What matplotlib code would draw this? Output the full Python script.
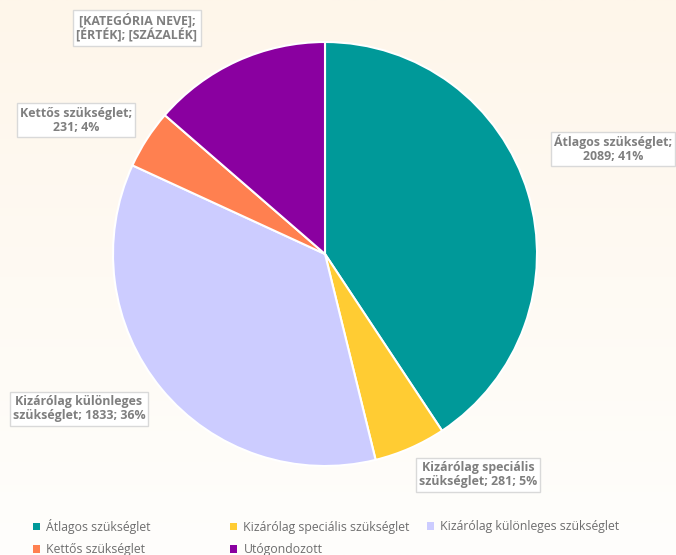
import numpy as np
import matplotlib.pyplot as plt
from matplotlib.colors import LinearSegmentedColormap

CATEGORIES = [
    "Átlagos szükséglet",
    "Kizárólag speciális szükséglet",
    "Kizárólag különleges szükséglet",
    "Kettős szükséglet",
    "Utógondozott",
]
VALUES = [2089, 281, 1833, 231, 700]
COLORS = ["#009999", "#FFCC33", "#CCCCFF", "#FF8050", "#8A00A0"]

LABELS = [
    "Átlagos szükséglet;\n2089; 41%",
    "Kizárólag speciális\nszükséglet; 281; 5%",
    "Kizárólag különleges\nszükséglet; 1833; 36%",
    "Kettős szükséglet;\n231; 4%",
    "[KATEGÓRIA NEVE];\n[ÉRTÉK]; [SZÁZALÉK]",
]
# label box centres in pixel coords (x, y from top)
LABEL_POS = [(613, 149), (478, 475), (79, 409), (76, 120), (137, 28)]

# legend is laid out row-wise in 3 equal columns, like Excel
LEGEND_COLS = [[0, 3], [1, 4], [2]]
LEGEND_X = [33, 230, 427]
LEGEND_BOTTOM = [556, 556, 533]

W, H = 676, 555
fig = plt.figure(figsize=(W / 100, H / 100), dpi=100)

# background gradient: cream at top, almost white at bottom
bg = fig.add_axes([0, 0, 1, 1], zorder=0)
grad = np.linspace(0, 1, 256).reshape(-1, 1)
cmap = LinearSegmentedColormap.from_list("bg", ["#FEF6EA", "#FFFEFC"])
bg.imshow(grad, aspect="auto", cmap=cmap, extent=[0, 1, 0, 1])
bg.axis("off")

ax = fig.add_axes([0, 0, 1, 1], zorder=1)
ax.patch.set_alpha(0)

wedges, _ = ax.pie(
    VALUES,
    colors=COLORS,
    startangle=90,
    counterclock=False,
    center=(325, H - 254),
    radius=212,
    frame=True,
    wedgeprops=dict(edgecolor="white", linewidth=1.5),
)
ax.set_xlim(0, W)
ax.set_ylim(0, H)
ax.axis("off")

font = "Open Sans"
for text, (px, py) in zip(LABELS, LABEL_POS):
    ax.text(
        px, H - py, text,
        ha="center", va="center", fontsize=8.9, fontweight="bold",
        color="#7F7F7F", family=font, linespacing=1.1,
        bbox=dict(boxstyle="square,pad=0.25", facecolor="white",
                  edgecolor="#D9D9D9", linewidth=1),
    )

for idxs, lx, lb in zip(LEGEND_COLS, LEGEND_X, LEGEND_BOTTOM):
    leg = fig.legend(
        [wedges[i] for i in idxs], [CATEGORIES[i] for i in idxs],
        loc="lower left", bbox_to_anchor=(lx / W, 1 - lb / H),
        frameon=False, borderpad=0, borderaxespad=0,
        handlelength=0.6, handleheight=0.6, handletextpad=0.5,
        labelspacing=0.75,
        prop=dict(family=font, size=8.8),
    )
    for t in leg.get_texts():
        t.set_color("#6E6E6E")
    for h in leg.legend_handles:
        h.set_edgecolor("none")

fig.savefig("out.png", dpi=100)
